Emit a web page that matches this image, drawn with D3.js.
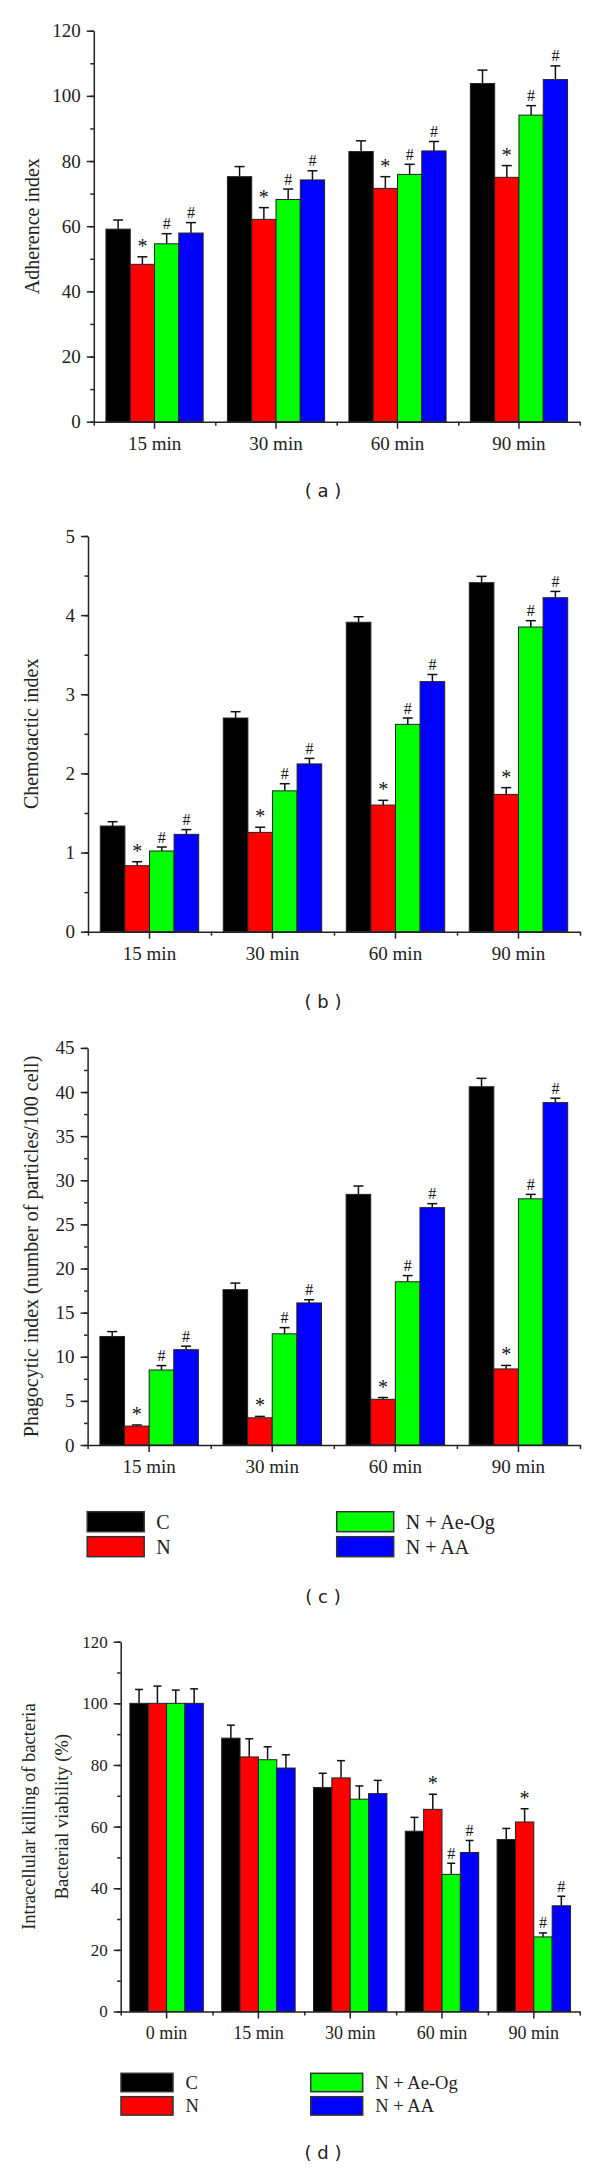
<!DOCTYPE html>
<html>
<head>
<meta charset="utf-8">
<script src="https://cdn.jsdelivr.net/npm/d3@7"></script>
<style>
  body { margin: 0; background: #fff; }
  svg { display: block; }
</style>
</head>
<body>
<svg id="fig" width="600" height="2168"></svg>
<script>
// categories and series
var times4 = ["15 min", "30 min", "60 min", "90 min"];
var times5 = ["0 min", "15 min", "30 min", "60 min", "90 min"];
var seriesNames = ["C", "N", "N + Ae-Og", "N + AA"];
var seriesColors = ["#000000", "#ff0000", "#00ff00", "#0000ff"];

// (a) adherence index, one row per series
var adhMean = [[59.1, 75.2, 82.9, 103.8], [48.3, 62.1, 71.6, 75.0], [54.6, 68.2, 75.9, 94.1], [57.9, 74.2, 83.1, 105.0]];
var adhErr  = [[2.8, 3.1, 3.3, 4.1], [2.3, 3.6, 3.6, 3.6], [3.1, 3.2, 3.1, 2.9], [3.2, 2.8, 2.9, 4.2]];
var adhMark = [["", "", "", ""], ["*", "*", "*", "*"], ["#", "#", "#", "#"], ["#", "#", "#", "#"]];

// (b) chemotactic index
var chemMean = [[1.335, 2.70, 3.91, 4.41], [0.834, 1.255, 1.60, 1.735], [1.02, 1.78, 2.62, 3.85], [1.23, 2.12, 3.16, 4.22]];
var chemErr  = [[0.055, 0.08, 0.07, 0.08], [0.05, 0.065, 0.06, 0.085], [0.05, 0.09, 0.08, 0.08], [0.06, 0.07, 0.09, 0.08]];
var chemMark = adhMark;

// (c) phagocytic index
var phagMean = [[12.3, 17.6, 28.4, 40.6], [2.14, 3.08, 5.18, 8.62], [8.5, 12.6, 18.5, 27.9], [10.8, 16.1, 26.9, 38.8]];
var phagErr  = [[0.55, 0.75, 0.95, 0.95], [0.13, 0.16, 0.2, 0.4], [0.5, 0.7, 0.7, 0.5], [0.4, 0.36, 0.45, 0.5]];
var phagMark = adhMark;

// (d) bacterial viability (%)
var viaMean = [[100, 88.7, 72.7, 58.5, 55.8], [100, 82.6, 75.8, 65.6, 61.5], [100, 81.7, 68.9, 44.5, 24.2], [100, 79.0, 70.7, 51.6, 34.3]];
var viaErr  = [[4.5, 4.2, 4.6, 4.5, 3.6], [5.6, 5.9, 5.6, 4.9, 4.3], [4.3, 4.2, 4.3, 3.6, 1.3], [4.7, 4.3, 4.3, 3.9, 3.1]];
var viaMark = [["", "", "", "", ""], ["", "", "", "*", "*"], ["", "", "", "#", "#"], ["", "", "", "#", "#"]];

var serif = "'Liberation Serif', 'Times New Roman', serif";
var sans = "'DejaVu Sans', Verdana, sans-serif";
var svg = d3.select("#fig");

drawPanel({groups: times4, mean: adhMean, err: adhErr, mark: adhMark,
  max: 120, major: 20, minor: 10, left: 93.8, right: 579.7, top: 30.7, bottom: 421.7,
  tickFont: 19, xFont: 19, title: ["Adherence index"], titleX: [31.8], titleFont: 20, cap: 10});
drawPanel({groups: times4, mean: chemMean, err: chemErr, mark: chemMark,
  max: 5, major: 1, minor: 0.5, left: 88, right: 580, top: 536, bottom: 931.7,
  tickFont: 19, xFont: 19, title: ["Chemotactic index"], titleX: [30.6], titleFont: 20, cap: 10});
drawPanel({groups: times4, mean: phagMean, err: phagErr, mark: phagMark,
  max: 45, major: 5, minor: 2.5, left: 87.6, right: 580, top: 1047.9, bottom: 1445,
  tickFont: 19, xFont: 19, title: ["Phagocytic index (number of particles/100 cell)"], titleX: [30.6], titleFont: 20, cap: 10});
drawPanel({groups: times5, mean: viaMean, err: viaErr, mark: viaMark,
  max: 120, major: 20, minor: 10, left: 120.7, right: 579.7, top: 1641.7, bottom: 2011.5,
  tickFont: 17, xFont: 18, title: ["Intracellular killing of bacteria", "Bacterial viability (%)"], titleX: [29.3, 61.7], titleFont: 18.5, cap: 8});

drawLegend(1511.7, [87.2, 336.7], 57, 20, 25, 12, 20);
drawLegend(2073.3, [121, 310.7], 52, 18.4, 23.4, 12.6, 18.5);

caption("( a )", 490);
caption("( b )", 1001);
caption("( c )", 1596);
caption("( d )", 2152);

function drawPanel(p) {
  var g = svg.append("g");
  var n = p.groups.length;

  var x0 = d3.scaleBand().domain(p.groups).range([p.left, p.right])
      .paddingInner(0.2).paddingOuter(0.1);
  var x1 = d3.scaleBand().domain(d3.range(seriesNames.length)).range([0, x0.bandwidth()]);
  var y = d3.scaleLinear().domain([0, p.max]).range([p.bottom, p.top]);

  // flatten into one row per bar
  var rows = [];
  p.mean.forEach(function(vals, s) {
    vals.forEach(function(v, i) {
      rows.push({group: p.groups[i], s: s, v: v, e: p.err[s][i], m: p.mark[s][i]});
    });
  });

  var bx = function(d) { return x0(d.group) + x1(d.s); };
  var cx = function(d) { return bx(d) + x1.bandwidth() / 2; };

  // error bars first so the bar outline sits on top
  var eb = g.selectAll(".err").data(rows).enter().append("g")
      .attr("stroke", "#111").attr("stroke-width", 1.5);
  eb.append("line")
      .attr("x1", cx).attr("x2", cx)
      .attr("y1", function(d) { return y(d.v); })
      .attr("y2", function(d) { return y(d.v + d.e); });
  eb.append("line")
      .attr("x1", function(d) { return cx(d) - p.cap / 2; })
      .attr("x2", function(d) { return cx(d) + p.cap / 2; })
      .attr("y1", function(d) { return y(d.v + d.e); })
      .attr("y2", function(d) { return y(d.v + d.e); });

  g.selectAll(".bar").data(rows).enter().append("rect")
      .attr("x", bx)
      .attr("y", function(d) { return y(d.v); })
      .attr("width", x1.bandwidth())
      .attr("height", function(d) { return y(0) - y(d.v); })
      .attr("fill", function(d) { return seriesColors[d.s]; })
      .attr("stroke", "#222")
      .attr("stroke-width", 1);

  // significance marks
  g.selectAll(".mark").data(rows.filter(function(d) { return d.m; })).enter().append("text")
      .attr("x", cx)
      .attr("y", function(d) { return y(d.v + d.e) - (d.m == "*" ? 4 : 4.5); })
      .attr("text-anchor", "middle")
      .attr("font-family", serif)
      .attr("font-size", function(d) { return d.m == "*" ? 20 : 16; })
      .attr("fill", "#111")
      .text(function(d) { return d.m; });

  // y axis: labelled major ticks plus short minor ticks
  var yMajor = d3.range(0, p.max + 1e-9, p.major);
  var yMinor = d3.range(0, p.max + 1e-9, p.minor);
  var yAx = g.append("g").attr("transform", "translate(" + p.left + ",0)")
      .call(d3.axisLeft(y).tickValues(yMajor).tickSize(7).tickSizeOuter(0).tickPadding(6)
        .tickFormat(d3.format("d")));
  g.append("g").attr("transform", "translate(" + p.left + ",0)")
      .call(d3.axisLeft(y).tickValues(yMinor).tickSize(3.5).tickFormat(""))
      .select(".domain").remove();

  // x axis: labels at group centres, small ticks at group edges
  var xAx = g.append("g").attr("transform", "translate(0," + p.bottom + ")")
      .call(d3.axisBottom(x0).tickSize(7).tickSizeOuter(0).tickPadding(8));
  var xEdge = d3.scaleLinear().domain([0, n]).range([p.left, p.right]);
  g.append("g").attr("transform", "translate(0," + p.bottom + ")")
      .call(d3.axisBottom(xEdge).tickValues(d3.range(n + 1)).tickSize(4).tickFormat(""))
      .select(".domain").remove();

  g.selectAll(".domain, .tick line").attr("stroke", "#222").attr("stroke-width", 1.5);
  yAx.selectAll("text").attr("font-family", serif).attr("font-size", p.tickFont).attr("fill", "#222");
  xAx.selectAll("text").attr("font-family", serif).attr("font-size", p.xFont).attr("fill", "#222");

  // rotated axis titles
  var mid = (p.top + p.bottom) / 2 - (p.title.length > 1 ? 10 : 0);
  p.title.forEach(function(t, i) {
    g.append("text")
        .attr("transform", "translate(" + p.titleX[i] + "," + mid + ") rotate(-90)")
        .attr("text-anchor", "middle")
        .attr("dominant-baseline", "central")
        .attr("font-family", serif)
        .attr("font-size", p.titleFont)
        .attr("fill", "#222")
        .text(t);
  });
}

function drawLegend(top, cols, w, h, step, pad, fontSize) {
  var items = seriesNames.map(function(name, i) {
    return {name: name, color: seriesColors[i], col: Math.floor(i / 2), row: i % 2};
  });
  var lg = svg.append("g").selectAll("g").data(items).enter().append("g")
      .attr("transform", function(d) { return "translate(" + cols[d.col] + "," + (top + d.row * step) + ")"; });
  lg.append("rect")
      .attr("width", w).attr("height", h)
      .attr("fill", function(d) { return d.color; })
      .attr("stroke", "#333").attr("stroke-width", 1.5);
  lg.append("text")
      .attr("x", w + pad).attr("y", h / 2)
      .attr("dominant-baseline", "central")
      .attr("font-family", serif)
      .attr("font-size", fontSize)
      .attr("fill", "#222")
      .text(function(d) { return d.name; });
}

function caption(t, yc) {
  svg.append("text")
      .attr("x", 323).attr("y", yc)
      .attr("text-anchor", "middle")
      .attr("dominant-baseline", "central")
      .attr("font-family", sans)
      .attr("font-size", 18)
      .attr("fill", "#222")
      .text(t);
}
</script>
</body>
</html>
